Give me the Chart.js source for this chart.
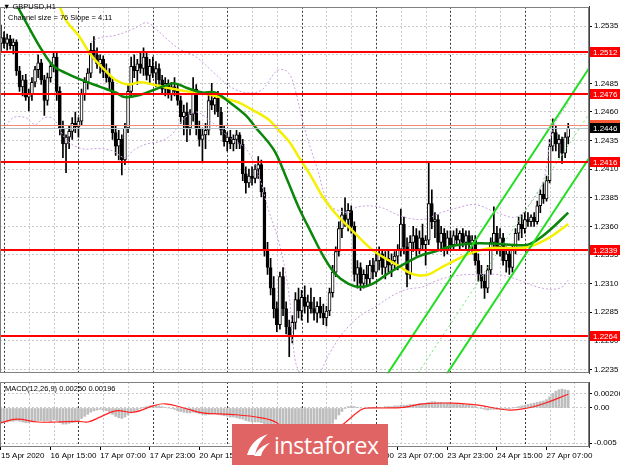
<!DOCTYPE html>
<html>
<head>
<meta charset="utf-8">
<title>GBPUSD H1</title>
<script src="https://cdn.jsdelivr.net/npm/chart.js@4.4.1/dist/chart.umd.min.js"></script>
<style>
  html, body { margin: 0; padding: 0; background: #fff; }
  body { width: 620px; height: 465px; position: relative; overflow: hidden; font-family: 'Liberation Sans', Arial, sans-serif; }
  canvas { position: absolute; left: 0; }
  #main { top: 0; }
  #macd { top: 380px; }
  .cap { position: absolute; font-size: 7.5px; line-height: 9px; color: #000; white-space: nowrap; }
  #logo { position: absolute; left: 232px; top: 424px; width: 156px; height: 41px; background: #e06464; color: #fff; }
  #logo span { position: absolute; left: 42px; top: 5px; font: 23px 'Open Sans', 'Noto Sans', sans-serif; letter-spacing: -0.3px; }
  #logo svg { position: absolute; left: 13px; top: 8px; }
</style>
</head>
<body>
<canvas id="main" width="620" height="380"></canvas>
<canvas id="macd" width="620" height="85"></canvas>
<div class="cap" style="left:3px;top:2px">&#9660; GBPUSD,H1</div>
<div class="cap" style="left:8px;top:13px">Channel size = 76 Slope = 4.11</div>
<div class="cap" style="left:5px;top:384px">MACD(12,26,9) 0.00250 0.00196</div>
<div id="logo">
  <svg width="26" height="26" viewBox="0 0 26 26"><path d="M2 23 C5 13 11 6 23 2 C16 8 12 14 10 23 Z" fill="#fff"/><path d="M9 24 C13 17 18 13 25 11 C20 15 17 19 16 24 Z" fill="#fff"/></svg>
  <span>instaforex</span>
</div>
<script>
// bar 0 = 16 Apr 15:00, one bar per hour
const firstBar = -16;

const opens = [
  1.2520,1.2525,1.2520,1.2524,1.2518,1.2521,1.2496,1.2482,
  1.2488,1.2473,1.2476,1.2486,1.2497,1.2503,1.2488,1.2470,
  1.2490,1.2500,1.2508,1.2478,1.2446,1.2432,1.2438,1.2443,
  1.2450,1.2447,1.2452,1.2476,1.2486,1.2494,1.2514,1.2510,
  1.2502,1.2506,1.2495,1.2490,1.2486,1.2442,1.2430,1.2436,
  1.2418,1.2446,1.2478,1.2500,1.2496,1.2502,1.2498,1.2508,
  1.2492,1.2500,1.2494,1.2498,1.2488,1.2480,1.2485,1.2476,
  1.2482,1.2478,1.2470,1.2456,1.2460,1.2446,1.2458,1.2480,
  1.2446,1.2436,1.2440,1.2444,1.2470,1.2466,1.2472,1.2460,
  1.2444,1.2434,1.2438,1.2432,1.2436,1.2440,1.2432,1.2406,
  1.2398,1.2404,1.2402,1.2410,1.2414,1.2390,1.2340,1.2324,
  1.2306,1.2288,1.2274,1.2316,1.2288,1.2272,1.2264,1.2276,
  1.2296,1.2286,1.2298,1.2290,1.2294,1.2288,1.2284,1.2290,
  1.2284,1.2280,1.2286,1.2302,1.2320,1.2338,1.2358,1.2370,
  1.2366,1.2374,1.2360,1.2318,1.2324,1.2310,1.2318,1.2314,
  1.2326,1.2320,1.2330,1.2336,1.2324,1.2332,1.2326,1.2330,
  1.2334,1.2340,1.2362,1.2342,1.2318,1.2346,1.2352,1.2340,
  1.2350,1.2344,1.2348,1.2380,1.2364,1.2366,1.2346,1.2354,
  1.2340,1.2350,1.2344,1.2352,1.2348,1.2354,1.2346,1.2352,
  1.2344,1.2348,1.2330,1.2318,1.2312,1.2306,1.2322,1.2346,
  1.2354,1.2342,1.2350,1.2330,1.2336,1.2324,1.2340,1.2354,
  1.2362,1.2358,1.2366,1.2364,1.2368,1.2364,1.2378,1.2388,
  1.2384,1.2400,1.2430,1.2442,1.2432,1.2436,1.2424,1.2438
];
const highs = [
  1.2536,1.2530,1.2528,1.2527,1.2524,1.2523,1.2500,1.2492,
  1.2493,1.2480,1.2490,1.2500,1.2510,1.2506,1.2492,1.2494,
  1.2503,1.2513,1.2512,1.2482,1.2452,1.2440,1.2448,1.2455,
  1.2460,1.2455,1.2480,1.2490,1.2498,1.2520,1.2526,1.2516,
  1.2510,1.2509,1.2502,1.2498,1.2490,1.2448,1.2444,1.2440,
  1.2450,1.2484,1.2508,1.2510,1.2506,1.2512,1.2516,1.2512,
  1.2506,1.2508,1.2504,1.2502,1.2492,1.2490,1.2488,1.2486,
  1.2490,1.2484,1.2474,1.2466,1.2468,1.2462,1.2490,1.2484,
  1.2452,1.2446,1.2450,1.2476,1.2485,1.2476,1.2478,1.2464,
  1.2448,1.2442,1.2444,1.2440,1.2444,1.2442,1.2436,1.2412,
  1.2410,1.2412,1.2414,1.2421,1.2418,1.2394,1.2346,1.2332,
  1.2316,1.2294,1.2320,1.2324,1.2294,1.2278,1.2282,1.2302,
  1.2306,1.2304,1.2308,1.2300,1.2306,1.2298,1.2294,1.2298,
  1.2292,1.2290,1.2306,1.2326,1.2342,1.2364,1.2376,1.2385,
  1.2380,1.2378,1.2364,1.2330,1.2328,1.2322,1.2326,1.2330,
  1.2332,1.2336,1.2342,1.2340,1.2338,1.2340,1.2336,1.2338,
  1.2344,1.2375,1.2368,1.2350,1.2352,1.2360,1.2358,1.2356,
  1.2362,1.2352,1.2415,1.2392,1.2372,1.2370,1.2360,1.2358,
  1.2356,1.2356,1.2356,1.2358,1.2356,1.2358,1.2356,1.2356,
  1.2352,1.2352,1.2336,1.2326,1.2318,1.2326,1.2350,1.2377,
  1.2360,1.2358,1.2354,1.2342,1.2340,1.2344,1.2358,1.2368,
  1.2370,1.2372,1.2372,1.2370,1.2372,1.2382,1.2392,1.2398,
  1.2404,1.2436,1.2454,1.2448,1.2440,1.2438,1.2442,1.2450
];
const lows = [
  1.2512,1.2516,1.2514,1.2515,1.2511,1.2492,1.2478,1.2474,
  1.2470,1.2461,1.2470,1.2482,1.2490,1.2484,1.2457,1.2466,
  1.2486,1.2495,1.2470,1.2440,1.2420,1.2407,1.2428,1.2436,
  1.2442,1.2438,1.2448,1.2470,1.2480,1.2490,1.2506,1.2498,
  1.2494,1.2490,1.2486,1.2480,1.2436,1.2422,1.2418,1.2405,
  1.2414,1.2442,1.2474,1.2490,1.2484,1.2494,1.2492,1.2488,
  1.2484,1.2490,1.2482,1.2484,1.2476,1.2474,1.2472,1.2470,
  1.2474,1.2466,1.2450,1.2440,1.2434,1.2440,1.2452,1.2440,
  1.2430,1.2417,1.2428,1.2440,1.2462,1.2458,1.2456,1.2440,
  1.2430,1.2426,1.2428,1.2426,1.2428,1.2428,1.2400,1.2389,
  1.2394,1.2396,1.2398,1.2402,1.2386,1.2334,1.2318,1.2300,
  1.2280,1.2268,1.2270,1.2282,1.2266,1.2246,1.2258,1.2270,
  1.2280,1.2278,1.2284,1.2276,1.2284,1.2278,1.2276,1.2280,
  1.2274,1.2273,1.2282,1.2298,1.2316,1.2334,1.2350,1.2360,
  1.2356,1.2354,1.2312,1.2306,1.2304,1.2306,1.2308,1.2310,
  1.2314,1.2316,1.2322,1.2318,1.2314,1.2320,1.2316,1.2322,
  1.2322,1.2334,1.2336,1.2307,1.2314,1.2338,1.2334,1.2336,
  1.2340,1.2326,1.2344,1.2358,1.2350,1.2340,1.2338,1.2334,
  1.2336,1.2340,1.2340,1.2344,1.2340,1.2342,1.2340,1.2338,
  1.2336,1.2326,1.2312,1.2306,1.2297,1.2302,1.2318,1.2340,
  1.2336,1.2334,1.2326,1.2320,1.2318,1.2320,1.2336,1.2348,
  1.2350,1.2354,1.2360,1.2360,1.2360,1.2362,1.2372,1.2380,
  1.2382,1.2398,1.2426,1.2426,1.2420,1.2415,1.2420,1.2432
];
const closes = [
  1.2525,1.2520,1.2524,1.2518,1.2521,1.2496,1.2482,1.2488,
  1.2473,1.2476,1.2486,1.2497,1.2503,1.2488,1.2470,1.2490,
  1.2500,1.2508,1.2478,1.2446,1.2432,1.2438,1.2443,1.2450,
  1.2447,1.2452,1.2476,1.2486,1.2494,1.2514,1.2510,1.2502,
  1.2506,1.2495,1.2490,1.2486,1.2442,1.2430,1.2436,1.2418,
  1.2446,1.2478,1.2500,1.2496,1.2502,1.2498,1.2508,1.2492,
  1.2500,1.2494,1.2498,1.2488,1.2480,1.2485,1.2476,1.2482,
  1.2478,1.2470,1.2456,1.2460,1.2446,1.2458,1.2480,1.2446,
  1.2436,1.2440,1.2444,1.2470,1.2466,1.2472,1.2460,1.2444,
  1.2434,1.2438,1.2432,1.2436,1.2440,1.2432,1.2406,1.2398,
  1.2404,1.2402,1.2410,1.2414,1.2390,1.2340,1.2324,1.2306,
  1.2288,1.2274,1.2316,1.2288,1.2272,1.2264,1.2276,1.2296,
  1.2286,1.2298,1.2290,1.2294,1.2288,1.2284,1.2290,1.2284,
  1.2280,1.2286,1.2302,1.2320,1.2338,1.2358,1.2370,1.2366,
  1.2374,1.2360,1.2318,1.2324,1.2310,1.2318,1.2314,1.2326,
  1.2320,1.2330,1.2336,1.2324,1.2332,1.2326,1.2330,1.2334,
  1.2340,1.2362,1.2342,1.2318,1.2346,1.2352,1.2340,1.2350,
  1.2344,1.2348,1.2380,1.2364,1.2366,1.2346,1.2354,1.2340,
  1.2350,1.2344,1.2352,1.2348,1.2354,1.2346,1.2352,1.2344,
  1.2348,1.2330,1.2318,1.2312,1.2306,1.2322,1.2346,1.2354,
  1.2342,1.2350,1.2330,1.2336,1.2324,1.2340,1.2354,1.2362,
  1.2358,1.2366,1.2364,1.2368,1.2364,1.2378,1.2388,1.2384,
  1.2400,1.2430,1.2442,1.2432,1.2436,1.2424,1.2438,1.2446
];

// MACD(12,26,9): main as histogram, signal as line
const macdMain = [
  -0.0022,-0.0021,-0.0020,-0.0019,-0.0019,-0.0018,-0.0019,-0.0020,
  -0.0021,-0.0021,-0.0020,-0.0019,-0.0018,-0.0018,-0.0019,-0.0018,
  -0.0019,-0.0017,-0.0018,-0.0021,-0.0023,-0.0023,-0.0022,-0.0021,
  -0.0020,-0.0018,-0.0015,-0.0012,-0.0009,-0.0006,-0.0004,-0.0003,
  -0.0002,-0.0003,-0.0004,-0.0006,-0.0009,-0.0012,-0.0014,-0.0015,
  -0.0013,-0.0010,-0.0007,-0.0005,-0.0003,-0.0001,0.0001,0.0002,
  0.0003,0.0004,0.0004,0.0003,0.0002,0.0001,0.0000,-0.0001,
  -0.0002,-0.0004,-0.0005,-0.0006,-0.0007,-0.0007,-0.0006,-0.0007,
  -0.0008,-0.0009,-0.0010,-0.0009,-0.0008,-0.0008,-0.0009,-0.0010,
  -0.0011,-0.0012,-0.0013,-0.0013,-0.0014,-0.0015,-0.0016,-0.0018,
  -0.0019,-0.0020,-0.0020,-0.0020,-0.0021,-0.0025,-0.0029,-0.0033,
  -0.0037,-0.0041,-0.0042,-0.0044,-0.0046,-0.0048,-0.0048,-0.0047,
  -0.0047,-0.0046,-0.0045,-0.0044,-0.0042,-0.0040,-0.0038,-0.0036,
  -0.0034,-0.0031,-0.0027,-0.0022,-0.0016,-0.0010,-0.0005,-0.0001,
  0.0002,0.0003,0.0002,0.0001,0.0000,-0.0001,-0.0001,-0.0001,
  0.0000,0.0000,0.0001,0.0001,0.0002,0.0002,0.0002,0.0003,
  0.0003,0.0004,0.0004,0.0004,0.0005,0.0005,0.0005,0.0006,
  0.0006,0.0006,0.0008,0.0009,0.0009,0.0008,0.0008,0.0007,
  0.0007,0.0007,0.0006,0.0006,0.0005,0.0005,0.0004,0.0004,
  0.0003,0.0002,0.0000,-0.0001,-0.0002,-0.0003,-0.0002,-0.0002,
  -0.0002,-0.0002,-0.0002,-0.0001,-0.0001,0.0000,0.0001,0.0002,
  0.0003,0.0004,0.0005,0.0006,0.0007,0.0008,0.0009,0.0010,
  0.0012,0.0016,0.0021,0.0024,0.0026,0.0027,0.0026,0.0025
];
const signalBars = [-16,-11,-4,2,9,12,16,21,27,33,37,43,49,58,68,73,76,81,89,95,100,102,107,114,120,130,138,148,154,159,167];
const signalVals = [-0.0021,-0.0016,-0.0020,-0.0020,-0.0019,-0.0020,-0.0013,-0.0004,-0.0006,0.0003,0.0006,0.0000,-0.0007,-0.0009,-0.0014,-0.0021,-0.0036,-0.0045,-0.0041,-0.0021,-0.0003,0.0000,0.0000,0.0001,0.0006,0.0007,0.0004,-0.0003,0.0000,0.0006,0.00196];

// moving averages and bands
const maGreenBars = [-13,-7,-3,1,5,10,16,21,24,29,33,37,40,44,49,53,58,63,66,72,76,80,84,88,92,96,100,104,109,114,119,124,130,136,142,148,154,158,162,167];
const maGreenVals = [1.2564,1.2534,1.2515,1.2500,1.2494,1.2488,1.2482,1.2477,1.2473,1.2475,1.2479,1.2483,1.2485,1.2481,1.2477,1.2477,1.2468,1.2457,1.2447,1.2427,1.2403,1.2377,1.2355,1.2334,1.2318,1.2310,1.2307,1.2310,1.2319,1.2327,1.2334,1.2338,1.2343,1.2345,1.2345,1.2344,1.2344,1.2350,1.2359,1.2372];
const maYellowBars = [2,5,9,13,17,21,25,29,33,38,44,50,56,61,65,70,74,77,80,84,88,92,96,100,104,108,112,116,119,122,126,131,136,142,148,154,158,162,167];
const maYellowVals = [1.2559,1.2540,1.2527,1.2510,1.2498,1.2488,1.2484,1.2486,1.2484,1.2481,1.2478,1.2476,1.2472,1.2468,1.2462,1.2454,1.2443,1.2434,1.2421,1.2404,1.2385,1.2371,1.2360,1.2349,1.2339,1.2332,1.2326,1.2319,1.2317,1.2318,1.2324,1.2331,1.2337,1.2341,1.2341,1.2342,1.2346,1.2352,1.2362];
const bandUpBars = [13,16,21,27,31,35,41,47,52,58,63,68,73,76,78,82,86,90,96,99,106,113,120,126,131,137,144,150,154,159,162,167];
const bandUpVals = [1.2521,1.2525,1.2527,1.2533,1.2538,1.2530,1.2516,1.2508,1.2496,1.2482,1.2477,1.2479,1.2496,1.2496,1.2488,1.2445,1.2411,1.2379,1.2372,1.2377,1.2377,1.2369,1.2366,1.2372,1.2376,1.2379,1.2372,1.2368,1.2377,1.2400,1.2445,1.2468];
const bandLoBars = [-15,-12,-8,-5,-2,1,5,10,16,20,24,27,31,35,39,43,47,52,58,63,67,70,74,77,79,82,86,90,95,100,105,110,115,120,125,131,137,144,150,157,162,165,167];
const bandLoVals = [1.2445,1.2455,1.2455,1.2449,1.2455,1.2454,1.2436,1.2428,1.2428,1.2426,1.2420,1.2427,1.2432,1.2434,1.2440,1.2454,1.2460,1.2451,1.2437,1.2428,1.2406,1.2377,1.2343,1.2299,1.2242,1.2227,1.2229,1.2249,1.2269,1.2282,1.2290,1.2299,1.2305,1.2307,1.2313,1.2317,1.2318,1.2318,1.2314,1.2307,1.2305,1.2307,1.2313];

// regression channel over the last 76 bars (slope 4.11 pips/bar), drawn as rays
const chanBars = [92, 180];
const chanUpper = [1.21624, 1.25241];
const chanMid = [1.21225, 1.24842];
const chanLower = [1.20837, 1.24454];

const levels = [1.2512, 1.2476, 1.2416, 1.2339, 1.2264];
const bidPrice = 1.2446;
const askPrice = 1.2449;

const priceTicks = [1.2235,1.2260,1.2285,1.2310,1.2335,1.2360,1.2385,1.2410,1.2435,1.2460,1.2485,1.2510,1.2535];
const macdTicks = [-0.005, 0, 0.00206];
const macdTickText = ['-0.005', '0.00', '0.00206'];
const timeBars = [-16,0,16,32,48,64,80,96,112,128,144,160];
const timeLabels = ['15 Apr 2020','16 Apr 15:00','17 Apr 07:00','17 Apr 23:00','20 Apr 15:00','21 Apr 07:00','21 Apr 23:00','22 Apr 15:00','23 Apr 07:00','23 Apr 23:00','24 Apr 15:00','27 Apr 07:00'];
const gridBars = [-7,1,17,25,41,49,65,73,89,97,113,121,137,145,161,169];
const daySepBars = [-15,9,33,57,81,105,129,153];

const X_MIN = -16.3, X_MAX = 173.7;

Chart.defaults.font.family = "'Liberation Sans', Arial, sans-serif";
Chart.defaults.font.size = 8;
Chart.defaults.color = '#000';

const pts = (xs, ys) => xs.map((x, k) => ({ x, y: ys[k] }));
const barIndex = opens.map((_, k) => firstBar + k);
const bodies = opens.map((o, k) => ({ x: barIndex[k], y: [o, closes[k]] }));
const wicks = lows.map((l, k) => ({ x: barIndex[k], y: [l, highs[k]] }));
const bodyFill = opens.map((o, k) => closes[k] >= o ? '#ffffff' : '#000000');

// grid, period separators and frame, in the MT4 way
const mtPanel = {
    id: 'mtPanel',
    beforeDatasetsDraw(chart) {
        const { ctx, chartArea: a, scales: { x } } = chart;
        ctx.save();
        ctx.beginPath(); ctx.rect(a.left, a.top, a.width, a.height); ctx.clip();
        ctx.lineWidth = 1;
        ctx.setLineDash([2, 2]);
        const vline = (b) => {
            const px = Math.round(x.getPixelForValue(b)) + 0.5;
            ctx.beginPath(); ctx.moveTo(px, a.top); ctx.lineTo(px, a.bottom); ctx.stroke();
        };
        ctx.strokeStyle = '#c8c8c8';
        gridBars.forEach(vline);
        ctx.strokeStyle = '#3a3a3a';
        daySepBars.forEach(vline);
        ctx.restore();
    },
    afterDraw(chart) {
        const { ctx, chartArea: a } = chart;
        ctx.save();
        ctx.strokeStyle = '#808080';
        ctx.lineWidth = 1;
        ctx.strokeRect(Math.round(a.left) + 0.5, Math.round(a.top) + 0.5, Math.round(a.width) - 1, Math.round(a.height) - 1);
        ctx.restore();
    }
};

// horizontal levels, bid/ask lines and their price tags
const mtLevels = {
    id: 'mtLevels',
    afterDatasetsDraw(chart) {
        const { ctx, chartArea: a, scales: { y } } = chart;
        ctx.save();
        const hline = (p, color, w) => {
            const py = Math.round(y.getPixelForValue(p)) + (w % 2 ? 0.5 : 0);
            ctx.strokeStyle = color; ctx.lineWidth = w;
            ctx.beginPath(); ctx.moveTo(a.left, py); ctx.lineTo(a.right, py); ctx.stroke();
        };
        hline(askPrice, '#f28a7c', 1);
        hline(bidPrice, '#b4c2cc', 1);
        levels.forEach(p => hline(p, '#ff0000', 2));
        ctx.restore();
    },
    afterDraw(chart) {
        const { ctx, chartArea: a, scales: { y } } = chart;
        ctx.save();
        ctx.font = "8px 'Liberation Sans', Arial, sans-serif";
        ctx.textBaseline = 'middle';
        const tag = (p, bg) => {
            const py = Math.round(y.getPixelForValue(p));
            ctx.fillStyle = bg;
            ctx.fillRect(a.right + 1, py - 5, 30, 10);
            ctx.fillStyle = '#fff';
            ctx.fillText(p.toFixed(4), a.right + 4, py + 0.5);
        };
        levels.forEach(p => tag(p, '#ff0000'));
        tag(askPrice, '#ff5a36');
        tag(bidPrice, '#000000');
        ctx.restore();
    }
};

new Chart(document.getElementById('main'), {
    data: {
        datasets: [
            { type: 'line', label: 'Channel upper', data: pts(chanBars, chanUpper), borderColor: '#22dd22', borderWidth: 2, pointRadius: 0, order: -3 },
            { type: 'line', label: 'Channel middle', data: pts(chanBars, chanMid), borderColor: '#66e866', borderWidth: 1, borderDash: [2, 3], pointRadius: 0, order: -3 },
            { type: 'line', label: 'Channel lower', data: pts(chanBars, chanLower), borderColor: '#22dd22', borderWidth: 2, pointRadius: 0, order: -3 },
            { type: 'line', label: 'MA green', data: pts(maGreenBars, maGreenVals), borderColor: '#0a870a', borderWidth: 2.5, tension: 0.35, pointRadius: 0, order: -2 },
            { type: 'line', label: 'MA yellow', data: pts(maYellowBars, maYellowVals), borderColor: '#f5f000', borderWidth: 2.5, tension: 0.35, pointRadius: 0, order: -1 },
            { type: 'line', label: 'Band up', data: pts(bandUpBars, bandUpVals), borderColor: '#c9a0e0', borderWidth: 1, borderDash: [2, 2], tension: 0.35, pointRadius: 0, order: 0 },
            { type: 'line', label: 'Band low', data: pts(bandLoBars, bandLoVals), borderColor: '#c9a0e0', borderWidth: 1, borderDash: [2, 2], tension: 0.35, pointRadius: 0, order: 0 },
            { type: 'bar', label: 'Body', data: bodies, backgroundColor: bodyFill, borderColor: '#000', borderWidth: 1, borderSkipped: false, barThickness: 3, maxBarThickness: 3, grouped: false, order: 1 },
            { type: 'bar', label: 'Wick', data: wicks, backgroundColor: '#000', borderWidth: 0, barThickness: 1, maxBarThickness: 1, grouped: false, order: 2 }
        ]
    },
    options: {
        responsive: false,
        animation: false,
        events: [],
        layout: { padding: { left: 0, top: 1, bottom: 1, right: 0 } },
        plugins: { legend: { display: false }, tooltip: { enabled: false } },
        scales: {
            x: { type: 'linear', min: X_MIN, max: X_MAX, offset: false, display: false },
            y: {
                type: 'linear', position: 'right', min: 1.223161, max: 1.255195,
                afterFit: s => { s.width = 31; },
                afterBuildTicks: s => { s.ticks = priceTicks.map(v => ({ value: v })); },
                ticks: { autoSkip: false, padding: 2, callback: v => v.toFixed(4) },
                grid: { color: '#cacaca', tickColor: '#000', tickLength: 3 },
                border: { color: '#404040', dash: [2, 2] }
            }
        }
    },
    plugins: [mtPanel, mtLevels]
});

new Chart(document.getElementById('macd'), {
    data: {
        datasets: [
            { type: 'line', label: 'Signal', data: pts(signalBars, signalVals), borderColor: '#ff2020', borderWidth: 1.2, tension: 0.4, pointRadius: 0, order: 0 },
            { type: 'bar', label: 'MACD', data: pts(barIndex, macdMain), backgroundColor: '#bdbdbd', barThickness: 2, maxBarThickness: 2, grouped: false, order: 1 }
        ]
    },
    options: {
        responsive: false,
        animation: false,
        events: [],
        layout: { padding: { left: 0, top: 2, bottom: 0, right: 0 } },
        plugins: { legend: { display: false }, tooltip: { enabled: false } },
        scales: {
            x: {
                type: 'linear', min: X_MIN, max: X_MAX, offset: false, position: 'bottom',
                afterBuildTicks: s => { s.ticks = timeBars.map(v => ({ value: v })); },
                afterFit: s => { s.height = 18; s.paddingLeft = 0; s.paddingRight = 0; },
                ticks: { autoSkip: false, maxRotation: 0, minRotation: 0, align: 'start', padding: 1, callback: (v, k) => timeLabels[k] },
                grid: { offset: false, drawOnChartArea: false, drawTicks: true, tickLength: 3, tickColor: '#000' },
                border: { display: false }
            },
            y: {
                type: 'linear', position: 'right', min: -0.005571, max: 0.003714,
                afterFit: s => { s.width = 31; s.paddingTop = 0; s.paddingBottom = 0; },
                afterBuildTicks: s => { s.ticks = macdTicks.map(v => ({ value: v })); },
                ticks: { autoSkip: false, padding: 2, callback: (v, k) => macdTickText[k] },
                grid: { color: '#cacaca', tickColor: '#000', tickLength: 3 },
                border: { color: '#404040', dash: [2, 2] }
            }
        }
    },
    plugins: [mtPanel]
});
</script>
</body>
</html>
